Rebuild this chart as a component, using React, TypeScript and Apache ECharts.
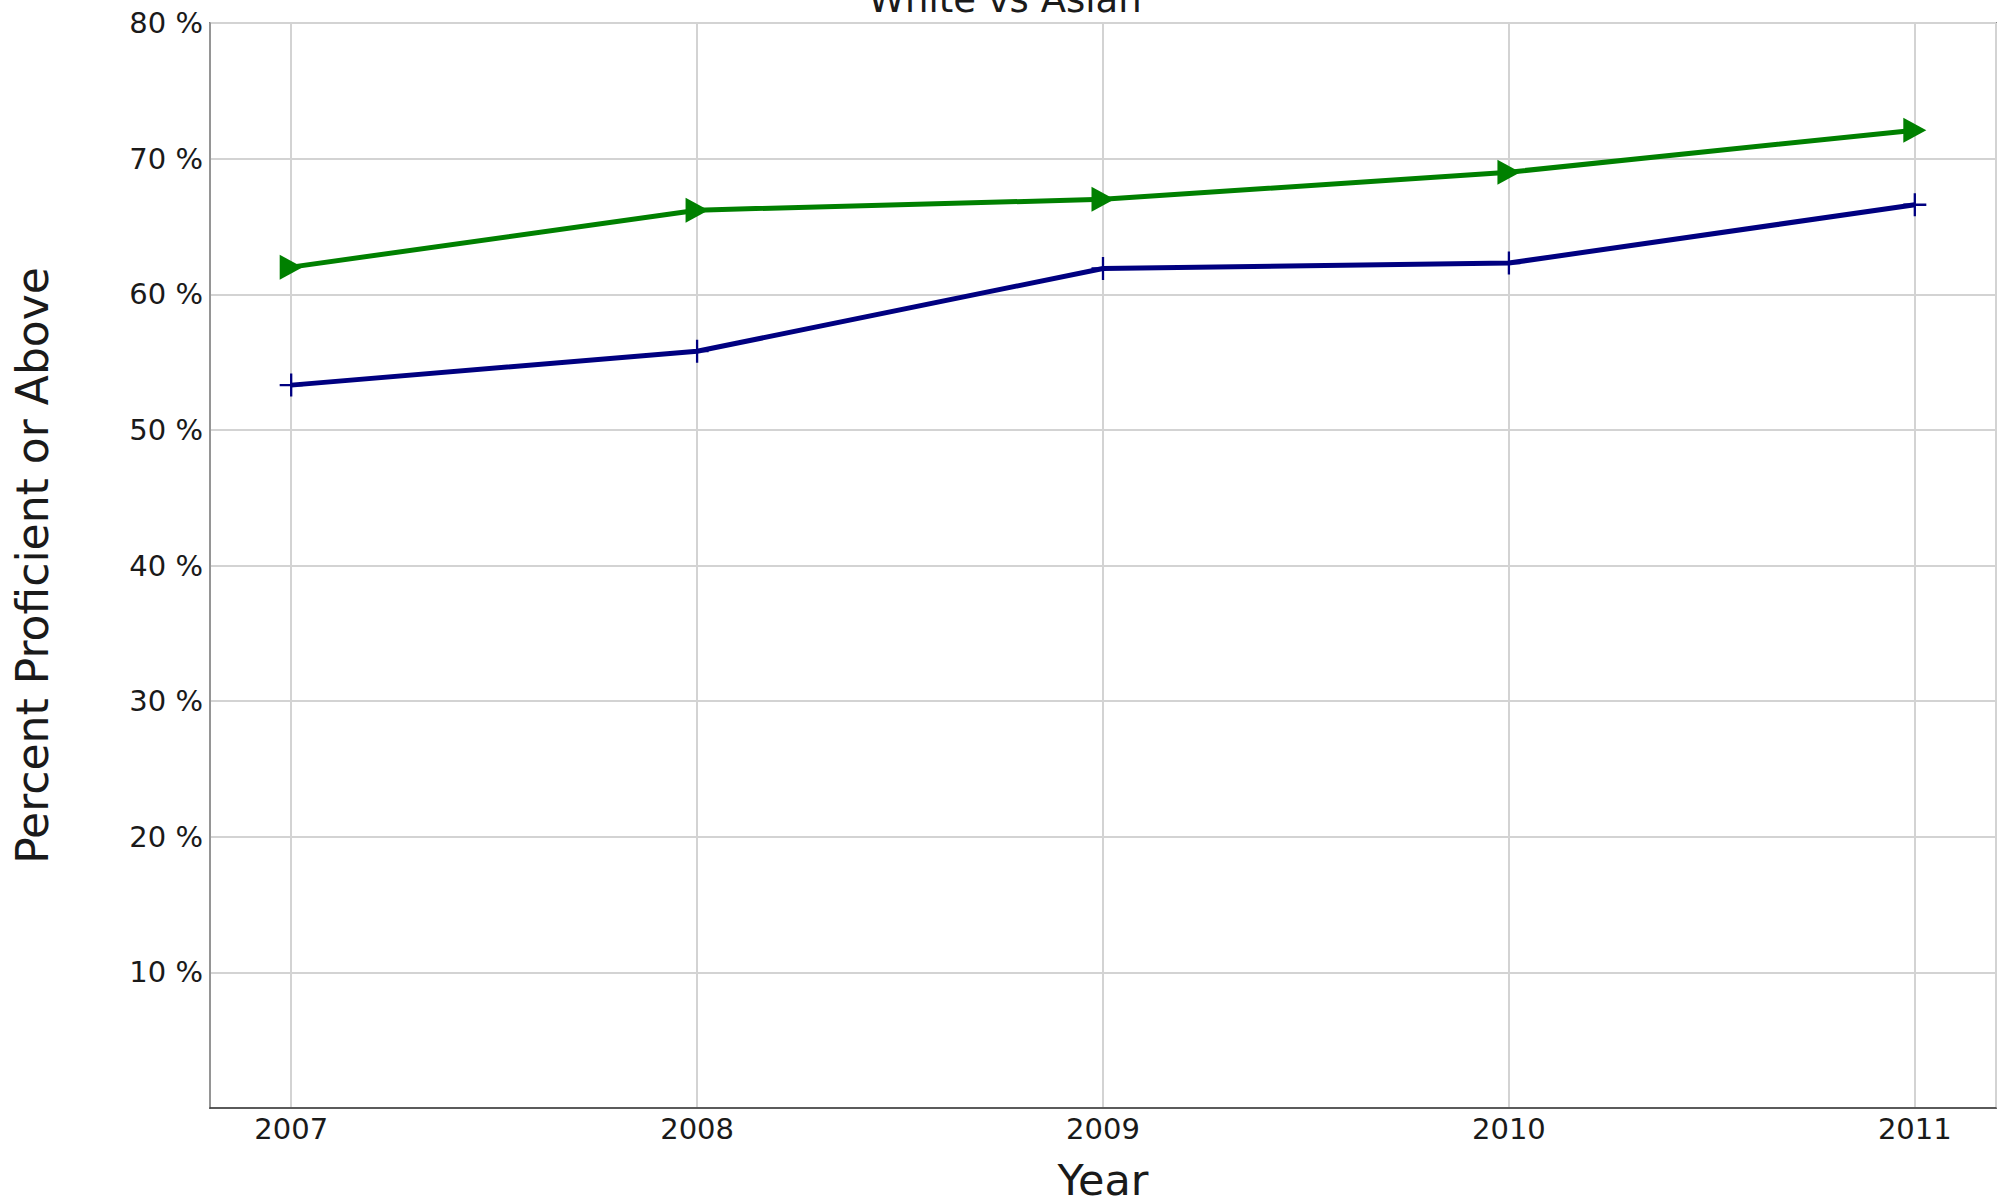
import React, { useEffect, useRef } from "react";
import * as echarts from "echarts";

const years = [2007, 2008, 2009, 2010, 2011];
const greenValues = [62.0, 66.2, 67.0, 69.0, 72.1];
const blueValues = [53.3, 55.8, 61.9, 62.3, 66.6];
const yTicks = [0, 10, 20, 30, 40, 50, 60, 70, 80];

const chartTitle = "White vs Asian";
const xTitle = "Year";
const yTitle = "Percent Proficient or Above";

const FONT = "DejaVu Sans";

export default function App() {
  const ref = useRef<HTMLDivElement>(null);

  useEffect(() => {
    if (!ref.current) return;
    const chart = echarts.init(ref.current, undefined, { renderer: "svg" });
    const W = 1999;
    const gridLeft = 210;
    const gridTop = 23;
    const gridRight = 3;
    const gridBottom = 96;
    const plotCenterX = (gridLeft + (W - gridRight)) / 2;
    const plotCenterY = (gridTop + (1204 - gridBottom)) / 2;

    chart.setOption({
      animation: false,
      backgroundColor: "#ffffff",
      textStyle: { fontFamily: FONT },
      grid: {
        left: gridLeft,
        top: gridTop,
        right: gridRight,
        bottom: gridBottom,
        show: true,
        borderColor: "#333333",
        borderWidth: 1.5,
        containLabel: false,
      },
      xAxis: {
        type: "value",
        min: 2006.8,
        max: 2011.2,
        minInterval: 1,
        maxInterval: 1,
        axisLine: { show: true, lineStyle: { color: "#333333", width: 1.5 } },
        axisTick: { show: false },
        axisLabel: {
          show: true,
          margin: 6,
          fontFamily: FONT,
          fontSize: 29,
          color: "#1a1a1a",
          showMinLabel: false,
          showMaxLabel: false,
          formatter: (v: number) =>
            years.includes(Math.round(v)) && Math.abs(v - Math.round(v)) < 1e-6
              ? String(Math.round(v))
              : "",
        },
        splitLine: { show: true, lineStyle: { color: "#d3d3d3", width: 2 } },
      },
      yAxis: {
        type: "value",
        min: yTicks[0],
        max: yTicks[yTicks.length - 1],
        interval: 10,
        axisLine: { show: true, lineStyle: { color: "#808080", width: 1.5 } },
        axisTick: { show: false },
        axisLabel: {
          margin: 7,
          fontFamily: FONT,
          fontSize: 29,
          color: "#1a1a1a",
          formatter: (v: number) => (v === 0 ? "" : `${v} %`),
        },
        splitLine: { show: true, lineStyle: { color: "#d3d3d3", width: 2 } },
      },
      graphic: [
        {
          type: "text",
          x: 1005,
          y: 18,
          style: {
            text: chartTitle,
            font: `37px "${FONT}"`,
            fill: "#1a1a1a",
            textAlign: "center",
            textVerticalAlign: "bottom",
          },
        },
        {
          type: "text",
          x: plotCenterX,
          y: 1180,
          style: {
            text: xTitle,
            font: `43px "${FONT}"`,
            fill: "#1a1a1a",
            textAlign: "center",
            textVerticalAlign: "middle",
          },
        },
        {
          type: "text",
          x: 32,
          y: plotCenterY,
          rotation: Math.PI / 2,
          style: {
            text: yTitle,
            font: `44px "${FONT}"`,
            fill: "#1a1a1a",
            textAlign: "center",
            textVerticalAlign: "middle",
          },
        },
      ],
      series: [
        {
          name: "Asian",
          type: "line",
          data: years.map((y, i) => [y, greenValues[i]]),
          lineStyle: { color: "#008000", width: 5 },
          itemStyle: { color: "#008000" },
          symbol: "path://M0,0L23,12.5L0,25Z",
          symbolSize: [23, 25],
          showAllSymbol: true,
          clip: false,
        },
        {
          name: "White",
          type: "line",
          data: years.map((y, i) => [y, blueValues[i]]),
          lineStyle: { color: "#000080", width: 5 },
          itemStyle: { color: "#000080" },
          symbol: "path://M9,0H11V9H20V11H11V20H9V11H0V9H9Z",
          symbolSize: 23,
          showAllSymbol: true,
          clip: false,
        },
      ],
    });

    return () => chart.dispose();
  }, []);

  return (
    <div
      ref={ref}
      style={{ position: "fixed", left: 0, top: 0, width: 1999, height: 1204 }}
    />
  );
}
